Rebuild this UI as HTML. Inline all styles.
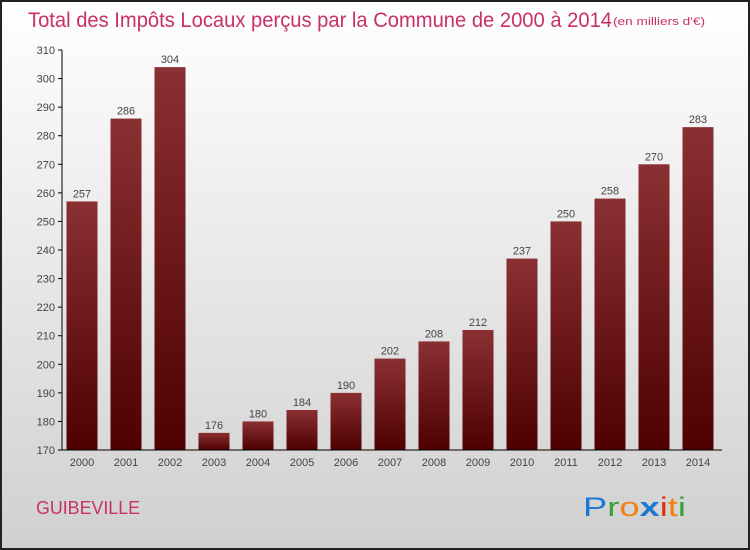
<!DOCTYPE html>
<html><head><meta charset="utf-8"><style>
body{margin:0;width:750px;height:550px;overflow:hidden}
svg{display:block;font-family:"Liberation Sans",sans-serif}
</style></head><body>
<svg id="c" width="750" height="550">
<defs>
<linearGradient id="bg" x1="0" y1="0" x2="0" y2="1"><stop offset="0" stop-color="#ffffff"/><stop offset="1" stop-color="#d0d0d0"/></linearGradient>
<linearGradient id="bar" x1="0" y1="0" x2="0" y2="1"><stop offset="0" stop-color="#8a3033"/><stop offset="1" stop-color="#4e0000"/></linearGradient>
</defs>
<rect x="1" y="1" width="748" height="548" fill="url(#bg)" stroke="#222" stroke-width="2"/>
<text x="28" y="27" font-size="21" fill="#c8306a" textLength="584" lengthAdjust="spacingAndGlyphs">Total des Impôts Locaux perçus par la Commune de 2000 à 2014</text>
<text x="613" y="25" font-size="11" fill="#c8306a" textLength="92" lengthAdjust="spacingAndGlyphs">(en milliers d'€)</text>
<text x="36" y="514" font-size="18" fill="#c8306a" textLength="104" lengthAdjust="spacingAndGlyphs">GUIBEVILLE</text>
<g font-size="27">
<text x="583" y="516" textLength="103" lengthAdjust="spacingAndGlyphs"><tspan fill="#1e78d2">P</tspan><tspan fill="#3aa13a">r</tspan><tspan fill="#f08010">o</tspan><tspan fill="#1e78d2" font-weight="bold">x</tspan><tspan fill="#e03010">i</tspan><tspan fill="#f08010">t</tspan><tspan fill="#3aa13a">i</tspan></text>
</g>
<g id="plot"></g>
</svg>
<script>
const years=["2000","2001","2002","2003","2004","2005","2006","2007","2008","2009","2010","2011","2012","2013","2014"];
const values=[257,286,304,176,180,184,190,202,208,212,237,250,258,270,283];
const yTicks=[170,180,190,200,210,220,230,240,250,260,270,280,290,300,310];
const NS="http://www.w3.org/2000/svg";
const g=document.getElementById('plot');
const y=v=>450-(v-170)*400/140;
const x=i=>82+i*44;
function mk(t,a,txt){const e=document.createElementNS(NS,t);for(const k in a)e.setAttribute(k,a[k]);if(txt!==undefined)e.textContent=txt;g.appendChild(e);return e;}
yTicks.forEach(v=>{
const tk=mk('line',{x1:58,x2:62,y1:y(v),y2:y(v),stroke:'#000'});


const l=mk('text',{x:55,y:y(v)+4,'font-size':11,'text-anchor':'end',fill:'#444'},v);


});
values.forEach((v,i)=>{
const b=mk('rect',{x:x(i)-15.5,y:y(v),width:31,height:450-y(v),fill:'url(#bar)'});


const l=mk('text',{x:x(i),y:y(v)-4,'font-size':11,'text-anchor':'middle',fill:'#444'},v);


const xl=mk('text',{x:x(i),y:466,'font-size':11,'text-anchor':'middle',fill:'#444'},years[i]);


});
const ya=mk('line',{x1:62,x2:62,y1:50,y2:450,stroke:'#000'});


const xa=mk('line',{x1:62,x2:722,y1:450,y2:450,stroke:'#000'});


</script>
</body></html>
